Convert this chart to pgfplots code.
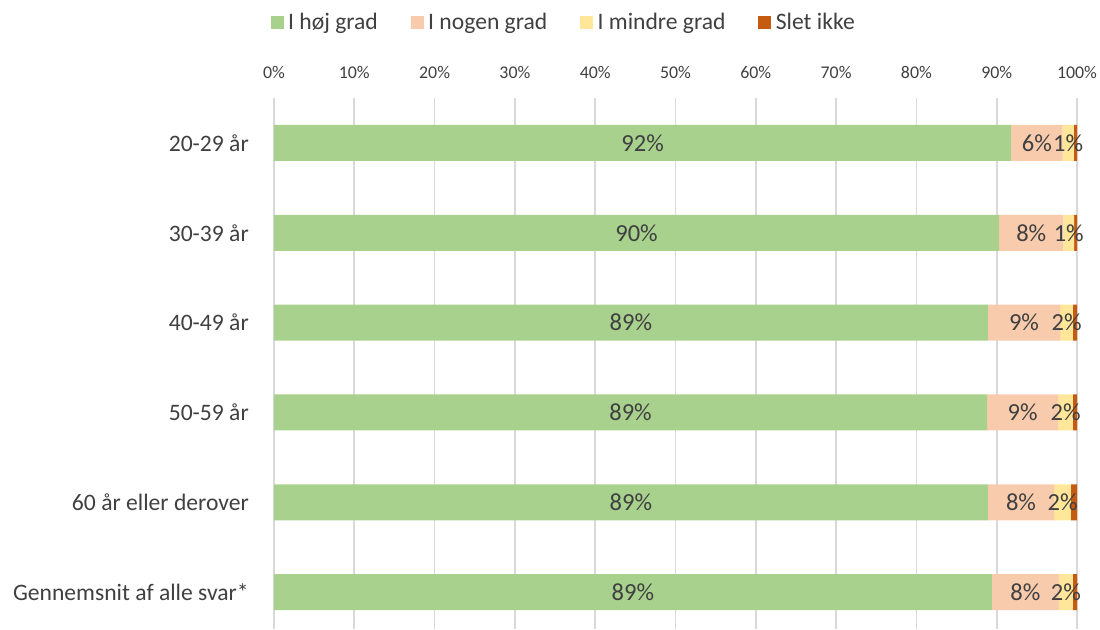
\documentclass[border=0pt]{standalone}
\usepackage{fontspec}
\setmainfont{Carlito}
\usepackage{pgfplots}
\pgfplotsset{compat=1.18}
\definecolor{cG}{HTML}{A9D18E}
\definecolor{cP}{HTML}{F8CBAD}
\definecolor{cY}{HTML}{FFE699}
\definecolor{cR}{HTML}{C55A11}
\definecolor{txt}{HTML}{404040}
\definecolor{grd}{HTML}{D9D9D9}
\newcommand{\bigf}{\fontsize{17.7}{21}\selectfont}
\newcommand{\labf}{\fontsize{18.4}{22}\selectfont}
\newcommand{\smallf}{\fontsize{13.4}{16}\selectfont}
\pgfplotsset{
  base/.style={
    scale only axis, width=602.25pt, height=398.25pt,
    xmin=0, xmax=100, ymin=-0.5, ymax=5.41, y dir=reverse,
    anchor=south west, at={(0,0)}},
  sq/.style={legend image code/.code={\fill[##1] (0pt,-4.875pt) rectangle (9.75pt,4.875pt);}}
}
\begin{document}
\begin{tikzpicture}
\begin{axis}[base, name=ax,
  xbar stacked, bar width=27pt,
  axis line style={draw=none},
  major tick length=0pt,
  xtick style={draw=none}, ytick style={draw=none},
  xtick={0,10,20,30,40,50,60,70,80,90,100},
  xticklabels={0\%,10\%,20\%,30\%,40\%,50\%,60\%,70\%,80\%,90\%,100\%},
  xticklabel pos=top,
  xticklabel style={font=\smallf, text=txt, inner sep=0pt, anchor=base, yshift=14.6pt},
  xmajorgrids, major grid style={grd, line width=1.2pt},
  ytick={0,1,2,3,4,5},
  yticklabels={20-29 år,30-39 år,40-49 år,50-59 år,60 år eller derover,Gennemsnit af alle svar*},
  yticklabel style={font=\bigf, text=txt, anchor=east, inner sep=0pt, xshift=-18.75pt},
  legend style={at={(0.3624,1.1431)}, anchor=center, draw=none, fill=none,
    legend columns=4, font=\bigf, text=txt,
    /tikz/every even column/.append style={column sep=21pt},
    inner sep=0pt, nodes={inner sep=3.5pt}},
]
\addplot[fill=cG, draw=none, sq] coordinates {(91.8,0) (90.3,1) (88.9,2) (88.8,3) (88.9,4) (89.4,5)};
\addplot[fill=cP, draw=none, sq] coordinates {(6.4,0) (8.0,1) (9.0,2) (8.85,3) (8.25,4) (8.35,5)};
\addplot[fill=cY, draw=none, sq] coordinates {(1.4,0) (1.35,1) (1.6,2) (1.85,3) (2.1,4) (1.75,5)};
\addplot[fill=cR, draw=none, sq] coordinates {(0.4,0) (0.35,1) (0.5,2) (0.5,3) (0.75,4) (0.5,5)};
\legend{I høj grad, I nogen grad, I mindre grad, Slet ikke}
\end{axis}
\begin{axis}[base, hide axis]
\addplot[only marks, mark=none, nodes near coords, point meta=explicit symbolic,
  nodes near coords align={center},
  every node near coord/.append style={font=\labf, text=txt, inner sep=0pt, anchor=center}]
  coordinates {
  (45.9,0) [92\%] (95.0,0) [6\%] (98.9,0) [1\%]
  (45.15,1) [90\%] (94.3,1) [8\%] (98.975,1) [1\%]
  (44.45,2) [89\%] (93.4,2) [9\%] (98.7,2) [2\%]
  (44.4,3) [89\%] (93.225,3) [9\%] (98.575,3) [2\%]
  (44.45,4) [89\%] (93.025,4) [8\%] (98.2,4) [2\%]
  (44.7,5) [89\%] (93.575,5) [8\%] (98.625,5) [2\%]
  };
\end{axis}
\pgfresetboundingbox
\path[use as bounding box] (ax.south west) ++(-205.5pt,0pt) rectangle ++(825pt,471.75pt);
\end{tikzpicture}
\end{document}
